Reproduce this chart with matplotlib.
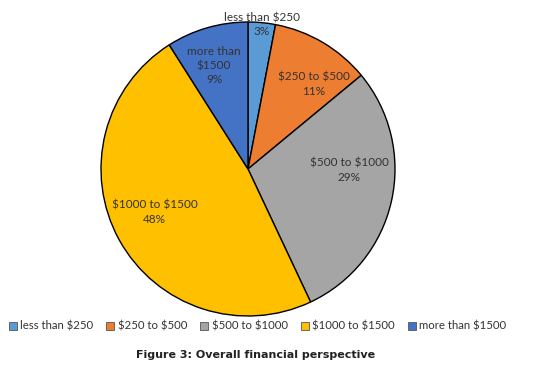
import matplotlib
matplotlib.use("Agg")
import matplotlib.pyplot as plt
import numpy as np

categories = ["less than $250", "$250 to $500", "$500 to $1000", "$1000 to $1500", "more than $1500"]
values = [3, 11, 29, 48, 9]
pct_labels = ["3%", "11%", "29%", "48%", "9%"]
label_texts = ["less than $250", "$250 to $500", "$500 to $1000", "$1000 to $1500", "more than\n$1500"]
colors = ["#5B9BD5", "#ED7D31", "#A5A5A5", "#FFC000", "#4472C4"]

plt.rcParams['font.family'] = ['Lato', 'DejaVu Sans']
plt.rcParams['text.parse_math'] = False

W, H = 533, 367
fig = plt.figure(figsize=(W/100, H/100), dpi=100)
cx, cy, r = 248, 169, 147
ax = fig.add_axes([(cx-r)/W, (H-cy-r)/H, 2*r/W, 2*r/H])
wedges, _ = ax.pie(values, colors=colors, startangle=90, counterclock=False,
                   wedgeprops=dict(edgecolor='black', linewidth=1.0), radius=1.0)
ax.set_xlim(-1, 1); ax.set_ylim(-1, 1)
ax.set_aspect('equal')

label_r = [0.985, 0.73, 0.69, 0.70, 0.74]
angle_adj = [0, -7, 12, -4, 2]
for i, w in enumerate(wedges):
    mid = np.deg2rad((w.theta1 + w.theta2) / 2 + angle_adj[i])
    x, y = label_r[i]*np.cos(mid), label_r[i]*np.sin(mid)
    ax.text(x, y, label_texts[i] + "\n" + pct_labels[i], ha='center', va='center',
            fontsize=8.5, color='#333333', linespacing=1.35)

handles = [plt.Rectangle((0, 0), 1, 1, facecolor=c, edgecolor='#555555', linewidth=0.6) for c in colors]
fig.legend(handles, categories, loc='center', bbox_to_anchor=(257.5/W, 1 - 326/H), ncol=5,
           frameon=False, fontsize=8.2, handlelength=0.7, handleheight=0.7, handletextpad=0.3,
           columnspacing=1.15, labelcolor='#333333', borderpad=0, borderaxespad=0)

fig.text(256/W, 1 - 355/H, "Figure 3: Overall financial perspective", ha='center', va='center',
         fontsize=8, fontweight='bold', family='DejaVu Sans', color='#222222')

fig.savefig("out.png", dpi=100)
